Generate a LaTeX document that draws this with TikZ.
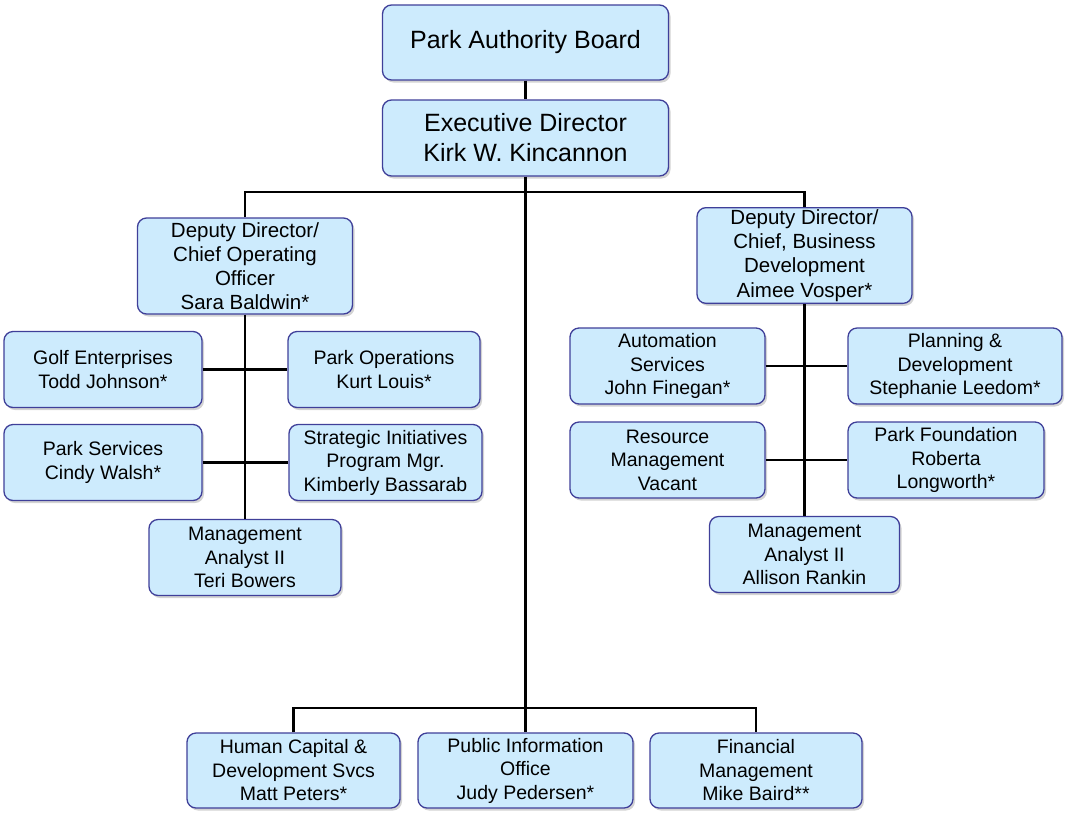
\documentclass[tikz,border=0pt]{standalone}
\usepackage{fontspec}
\setmainfont{Liberation Sans}
\usepackage{tikz}
\usetikzlibrary{positioning,shadows,calc}
\tikzset{>=latex}
\definecolor{boxfill}{HTML}{CDEBFD}
\definecolor{boxline}{HTML}{3F3F99}
\tikzstyle{unit}=[draw=boxline, fill=boxfill, line width=1.3pt, rounded corners=9pt,
  align=center, inner sep=2pt, minimum height=76pt,
  drop shadow={shadow xshift=2pt, shadow yshift=-2.5pt, opacity=0.35},
  font=\fontsize{19.5}{23.5}\selectfont]
\tikzstyle{deputy}=[unit, minimum width=215pt, font=\fontsize{20.5}{24.2}\selectfont]
\tikzstyle{head}=[unit, minimum width=286pt, font=\fontsize{25}{30}\selectfont]
\tikzstyle{link}=[line width=2.4pt, black]

\begin{document}
\begin{tikzpicture}[x=1pt, y=-1pt]
\useasboundingbox (0,0) rectangle (1065,815);

% top of the chart
\node[head, minimum height=75pt] (board) at (525.5,42.5) {Park Authority Board};
\node[head] (exec) at (525.5,138) {Executive Director\\Kirk W. Kincannon};

% left deputy and units
\node[deputy, minimum height=96pt] (depL) at (245,266)
  {Deputy Director/\\Chief Operating\\Officer\\Sara Baldwin*};
\node[unit, minimum width=198pt] (golf) at (103,369.5) {Golf Enterprises\\Todd Johnson*};
\node[unit, minimum width=192pt] (parkops) at (384,369.5) {Park Operations\\Kurt Louis*};
\node[unit, minimum width=198pt] (parksvc) at (103,462.5) {Park Services\\Cindy Walsh*};
\node[unit, minimum width=193pt] (strat) at (385.5,462.5)
  {Strategic Initiatives\\Program Mgr.\\Kimberly Bassarab};
\node[unit, minimum width=192pt] (maL) at (245,557.5)
  {Management\\Analyst II\\Teri Bowers};

% right deputy and units
\node[deputy, minimum height=95pt] (depR) at (804.5,255.5)
  {Deputy Director/\\Chief, Business\\Development\\Aimee Vosper*};
\node[unit, minimum width=195pt] (auto) at (667.5,366) {Automation\\Services\\John Finegan*};
\node[unit, minimum width=214pt] (plan) at (955,366) {Planning \&\\Development\\Stephanie Leedom*};
\node[unit, minimum width=195pt] (resmgmt) at (667.5,460) {Resource\\Management\\Vacant};
\node[unit, minimum width=196pt] (found) at (946,460) {Park Foundation\\Roberta\\Longworth*};
\node[unit, minimum width=190pt] (maR) at (804.5,554.5)
  {Management\\Analyst II\\Allison Rankin};

% bottom row
\node[unit, minimum width=213pt, minimum height=75pt] (hcd) at (293.5,770.5)
  {Human Capital \&\\Development Svcs\\Matt Peters*};
\node[unit, minimum width=215pt, minimum height=75pt] (pio) at (525.5,770.5)
  {Public Information\\Office\\Judy Pedersen*};
\node[unit, minimum width=212pt, minimum height=75pt] (fin) at (756,770.5)
  {Financial\\Management\\Mike Baird**};

% connectors
\coordinate (split) at (525.5,192);
\coordinate (base) at (525.5,708);
\draw[link] (board) -- (exec);
\draw[link] (exec) -- (base);
\draw[link] (depL.north) |- (split) -| (depR.north);
\draw[link] (hcd.north) |- (base) -| (fin.north);
\draw[link] (base) -- (pio);
\draw[link] (depL) -- (maL);
\draw[link] (golf) -- (parkops);
\draw[link] (parksvc) -- (strat);
\draw[link] (depR) -- (maR);
\draw[link] (auto) -- (plan);
\draw[link] (resmgmt) -- (found);
\end{tikzpicture}
\end{document}
